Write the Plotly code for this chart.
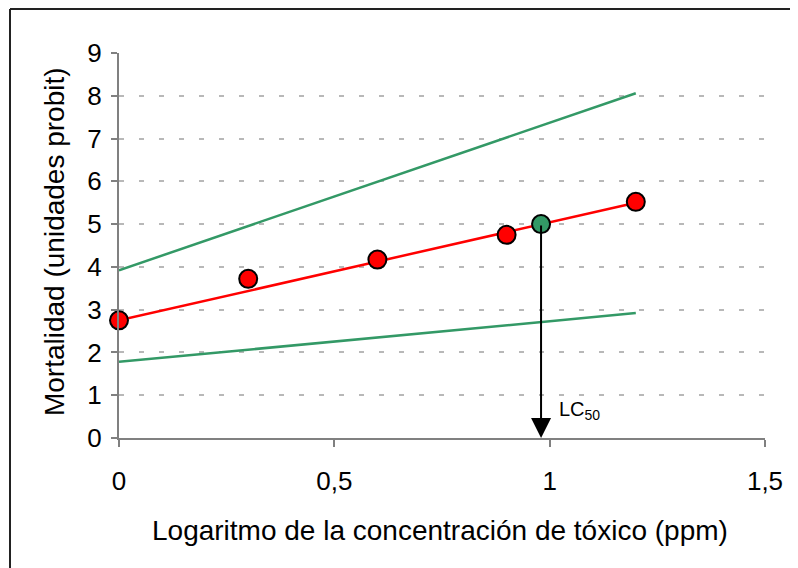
import plotly.graph_objects as go

# Data
log_conc = [0.0, 0.3, 0.6, 0.9, 1.2]
mortality_probit = [2.75, 3.72, 4.17, 4.75, 5.52]

fit_x = [0.0, 1.2]
fit_y = [2.75, 5.50]
upper_band_y = [3.92, 8.06]
lower_band_y = [1.78, 2.92]

lc50_x = 0.98
lc50_probit = 5.0

x_tick_vals = [0, 0.5, 1, 1.5]
x_tick_text = ["0", "0,5", "1", "1,5"]
y_tick_vals = list(range(0, 10))

GREEN = "#339966"
RED = "#ff0000"
FONT = "Liberation Sans, Arial, sans-serif"

fig = go.Figure()

fig.add_trace(go.Scatter(x=fit_x, y=upper_band_y, mode="lines",
                         line=dict(color=GREEN, width=2.5), cliponaxis=False,
                         showlegend=False, hoverinfo="skip"))
fig.add_trace(go.Scatter(x=fit_x, y=lower_band_y, mode="lines",
                         line=dict(color=GREEN, width=2.5), cliponaxis=False,
                         showlegend=False, hoverinfo="skip"))
fig.add_trace(go.Scatter(x=fit_x, y=fit_y, mode="lines",
                         line=dict(color=RED, width=2.5), cliponaxis=False,
                         showlegend=False, hoverinfo="skip"))
fig.add_trace(go.Scatter(x=log_conc, y=mortality_probit, mode="markers",
                         marker=dict(color=RED, size=18,
                                     line=dict(color="black", width=2)),
                         cliponaxis=False, showlegend=False))
fig.add_trace(go.Scatter(x=[lc50_x], y=[lc50_probit], mode="markers",
                         marker=dict(color=GREEN, size=18,
                                     line=dict(color="black", width=2)),
                         cliponaxis=False, showlegend=False))

# LC50 arrow
fig.add_annotation(x=lc50_x, y=0, ax=lc50_x, ay=lc50_probit,
                   xref="x", yref="y", axref="x", ayref="y",
                   showarrow=True, arrowhead=2, arrowsize=2, arrowwidth=2,
                   arrowcolor="black", standoff=0, startstandoff=0, text="")
fig.add_annotation(x=lc50_x, y=0.5, xref="x", yref="y",
                   text="LC<sub>50</sub>", showarrow=False,
                   xanchor="left", yanchor="bottom", xshift=16, yshift=-8,
                   font=dict(family=FONT, size=20, color="black"))

# Axis titles
fig.add_annotation(x=-0.1006, y=0.509, xref="paper", yref="paper",
                   text="Mortalidad (unidades probit)", textangle=-90,
                   showarrow=False, xanchor="center", yanchor="middle",
                   font=dict(family=FONT, size=28, color="black"))
fig.add_annotation(x=0.497, y=-0.239, xref="paper", yref="paper",
                   text="Logaritmo de la concentración de tóxico (ppm)",
                   showarrow=False, xanchor="center", yanchor="middle",
                   font=dict(family=FONT, size=28, color="black"))

# Chart frame (left and top edges visible)
fx = (2 - 111) / 646
fy = (430 - 1) / 385
fig.add_shape(type="line", xref="paper", yref="paper", x0=fx, x1=fx,
              y0=fy, y1=-0.5, line=dict(color="#222222", width=2))
fig.add_shape(type="line", xref="paper", yref="paper", x0=fx, x1=1.2,
              y0=fy, y1=fy, line=dict(color="#222222", width=2))

fig.update_xaxes(range=[0, 1.5], tickvals=x_tick_vals, ticktext=x_tick_text,
                 showgrid=False, zeroline=False, showline=True,
                 linecolor="#808080", linewidth=2, ticks="outside",
                 ticklen=7, tickwidth=1.5, tickcolor="#808080",
                 ticklabelstandoff=12,
                 tickfont=dict(family=FONT, size=26, color="black"))
fig.update_yaxes(range=[0, 9], tickvals=y_tick_vals,
                 showgrid=True, gridcolor="#b8b8b8", gridwidth=1.5,
                 griddash="5px,15px", zeroline=False, showline=True,
                 linecolor="#808080", linewidth=2, ticks="outside",
                 ticklen=6, tickwidth=1.5, tickcolor="#808080",
                 ticklabelstandoff=4,
                 tickfont=dict(family=FONT, size=26, color="black"))

fig.update_layout(width=790, height=560,
                  margin=dict(l=111, r=33, t=45, b=130),
                  paper_bgcolor="white", plot_bgcolor="white",
                  showlegend=False)

fig.write_html("out.html")
